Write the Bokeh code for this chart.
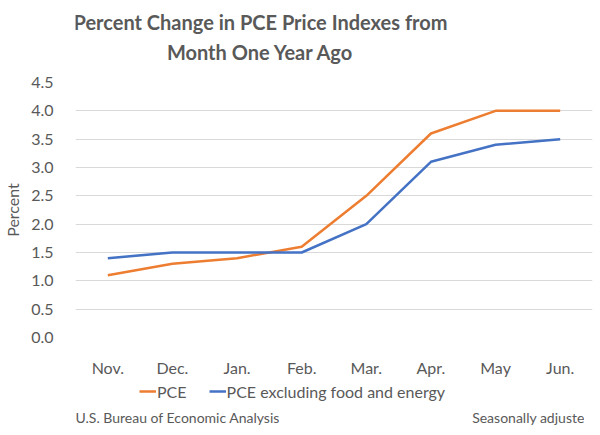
from bokeh.plotting import figure
from bokeh.models import (FactorRange, Range1d, Label, Legend, LegendItem,
                          SingleIntervalTicker, CustomJSTickFormatter)
from bokeh.layouts import column
from bokeh.embed import file_html
from bokeh.resources import INLINE

months = ["Nov.", "Dec.", "Jan.", "Feb.", "Mar.", "Apr.", "May", "Jun."]
pce = [1.1, 1.3, 1.4, 1.6, 2.5, 3.6, 4.0, 4.0]
core = [1.4, 1.5, 1.5, 1.5, 2.0, 3.1, 3.4, 3.5]
title_lines = ["Percent Change in PCE Price Indexes from", "Month One Year Ago"]
y_label = "Percent"
series_names = ["PCE", "PCE excluding food and energy"]
source_note = "U.S. Bureau of Economic Analysis"
adj_note = "Seasonally adjusted"

FONT = "Lato"
GRAY = "#595959"
ORANGE = "#ED7D31"
BLUE = "#4472C4"
W = 584


def blank(h):
    f = figure(x_range=Range1d(0, W), y_range=Range1d(0, h),
               frame_width=W, frame_height=h, min_border=0,
               min_border_left=0, min_border_right=0, min_border_top=0, min_border_bottom=0,
               x_axis_location=None, y_axis_location=None,
               output_backend="svg", toolbar_location=None)
    f.grid.visible = False
    f.outline_line_color = None
    return f


def note(f, x, y, text, align="left", size="14px", bold=False):
    f.add_layout(Label(x=x, y=y, x_units="data", y_units="data",
                       text=text, text_align=align, text_baseline="alphabetic",
                       text_font=FONT, text_font_size=size,
                       text_font_style="bold" if bold else "normal",
                       text_color=GRAY))


# --- title figure ---
top = blank(70)
note(top, 185, 49, title_lines[0], align="center", size="20px", bold=True)
note(top, 185, 19, title_lines[1], align="center", size="20px", bold=True)

# --- main chart ---
p = figure(
    x_range=FactorRange(*months, range_padding=0),
    y_range=Range1d(0, 4.5),
    frame_width=517, frame_height=255,
    min_border_left=65, min_border_right=2, min_border_top=12, min_border_bottom=40,
    output_backend="svg", toolbar_location=None,
)
p.outline_line_color = None

p.line(months, pce, line_color=ORANGE, line_width=2.5)
p.line(months, core, line_color=BLUE, line_width=2.5)

p.xgrid.grid_line_color = None
p.ygrid.grid_line_color = "#d9d9d9"
p.ygrid.grid_line_width = 1
p.yaxis.ticker = SingleIntervalTicker(interval=0.5)
p.yaxis.formatter = CustomJSTickFormatter(code="return tick.toFixed(1);")

for ax in (p.xaxis, p.yaxis):
    ax.axis_line_color = None
    ax.major_tick_line_color = None
    ax.minor_tick_line_color = None
    ax.major_label_text_font = FONT
    ax.major_label_text_color = GRAY
    ax.major_label_text_font_size = "16px"

p.yaxis.major_label_standoff = 16
p.xaxis.major_label_standoff = 14
p.yaxis.axis_label = y_label
p.yaxis.axis_label_text_font = FONT
p.yaxis.axis_label_text_font_style = "normal"
p.yaxis.axis_label_text_color = GRAY
p.yaxis.axis_label_text_font_size = "16px"
p.yaxis.axis_label_standoff = 6

# --- legend + footer figure ---
bot = blank(48)
idx = list(range(len(months)))
l1 = bot.line(idx, pce, line_color=ORANGE, line_width=2.5, visible=False)
l2 = bot.line(idx, core, line_color=BLUE, line_width=2.5, visible=False)
legend = Legend(items=[LegendItem(label=series_names[0], renderers=[l1]),
                       LegendItem(label=series_names[1], renderers=[l2])],
                location=(139, 26), orientation="horizontal",
                border_line_color=None, background_fill_alpha=0, inactive_fill_alpha=0,
                padding=0, margin=0, spacing=22, glyph_width=17, label_standoff=1,
                label_text_font=FONT, label_text_font_size="16px", label_text_color=GRAY)
bot.add_layout(legend, "center")
note(bot, 0, 10, source_note, align="left")
note(bot, 517, 10, adj_note, align="right")

layout = column(top, p, bot, spacing=0)
open("out.html", "w").write(file_html(layout, INLINE))
